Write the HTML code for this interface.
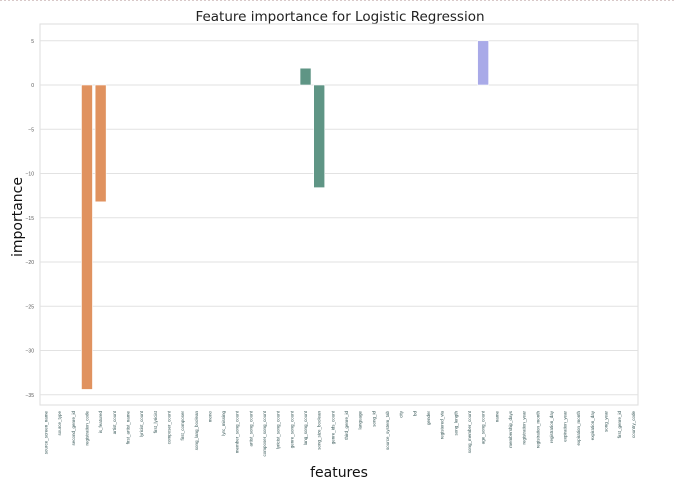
<!DOCTYPE html>
<html><head><meta charset="utf-8"><style>
body{margin:0;background:#fff;font-family:"Liberation Sans","DejaVu Sans",sans-serif;}
</style></head><body>
<svg id="chart" width="674" height="484" xmlns="http://www.w3.org/2000/svg">
<line x1="0" y1="0.5" x2="674" y2="0.5" stroke="#d8c8c8" stroke-dasharray="2,2"/>
<text x="340" y="21" text-anchor="middle" font-size="13.5" fill="#222" font-family="DejaVu Sans, sans-serif">Feature importance for Logistic Regression</text>
<rect x="40" y="24" width="598" height="381" fill="none" stroke="#ddd"/>
<g id="grid"></g><g id="bars"></g><g id="yticks"></g><g id="xticks"></g>
<text x="22" y="217" transform="rotate(-90 22 217)" text-anchor="middle" font-size="14" fill="#111" font-family="DejaVu Sans, sans-serif">importance</text>
<text x="339" y="477" text-anchor="middle" font-size="14" fill="#111" font-family="DejaVu Sans, sans-serif">features</text>
</svg>
<script>
const features=["source_screen_name","source_type","second_genre_id","registration_code","is_featured","artist_count","first_artist_name","lyricist_count","first_lyricist","composer_count","first_composer","song_lang_boolean","mono","lyrc_missing","member_song_count","artist_song_count","composer_song_count","lyricist_song_count","genre_song_count","lang_song_count","song_size_boolean","genre_ids_count","third_genre_id","language","song_id","source_system_tab","city","bd","gender","registered_via","song_length","song_member_count","age_song_count","name","membership_days","registration_year","registration_month","registration_day","expiration_year","expiration_month","expiration_day","song_year","first_genre_id","country_code"];
const importance=[0,0,0,-34.4,-13.2,0,0,0,0,0,0,0,0,0,0,0,0,0,0,1.9,-11.6,0,0,0,0,0,0,0,0,0,0,0,5.0,0,0,0,0,0,0,0,0,0,0,0];
const barColors=["#e0925f","#e0925f","#5f9585","#5f9585","#a9aae8"];
const yTicks=[5,0,-5,-10,-15,-20,-25,-30,-35];
const NS="http://www.w3.org/2000/svg";
const y=v=>85-v*8.85;
const x=i=>46+i*13.66;
function mk(t,a,p){const e=document.createElementNS(NS,t);for(const k in a)e.setAttribute(k,a[k]);document.getElementById(p).appendChild(e);return e;}
yTicks.forEach(t=>{
 const g=mk('line',{x1:40,x2:638,y1:y(t),y2:y(t),stroke:'#e2e2e2'},'grid');
 
 
 const l=mk('text',{x:34,y:y(t)+2,'text-anchor':'end','font-size':5,fill:'#555'},'yticks');
 l.textContent=t===0?'0':(t<0?'\u2212'+(-t):t);
 
 
});
let ci=0;
features.forEach((f,i)=>{
 const v=importance[i];
 if(Math.abs(v)>0.05){
  const b=mk('rect',{x:x(i)-5.5,width:11,y:Math.min(y(v),y(0)),height:Math.abs(y(v)-y(0)),fill:barColors[ci++%barColors.length],stroke:'#fff','stroke-width':0.6},'bars');
  
  
 }
 const l=mk('text',{x:x(i)+1.5,y:411,transform:`rotate(-90 ${x(i)+1.5} 411)`,'text-anchor':'end','font-size':4.5,fill:'#3a5a5a'},'xticks');
 l.textContent=f;
 
 
});
</script>
</body></html>
